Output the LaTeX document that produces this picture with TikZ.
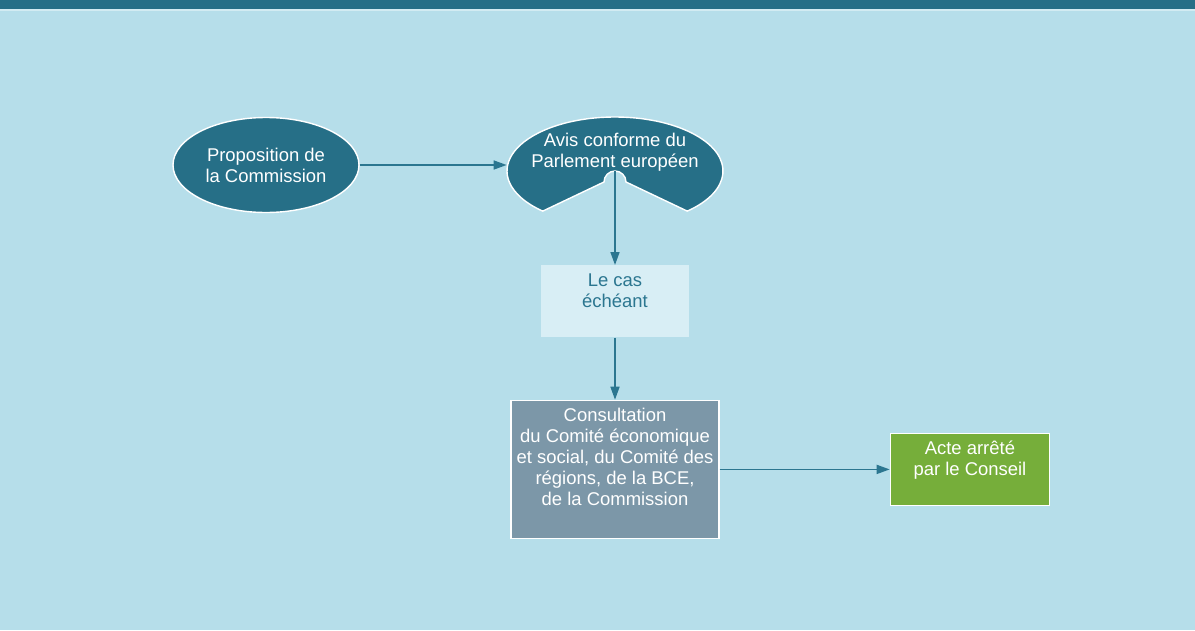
\documentclass[tikz,border=0pt]{standalone}
\usepackage{fontspec}
\setmainfont{Liberation Sans}
\usepackage{xcolor}
\usetikzlibrary{shapes.geometric,positioning,arrows.meta}

\definecolor{pagebg}{HTML}{B6DEEA}
\definecolor{darkteal}{HTML}{266F87}
\definecolor{lineteal}{HTML}{2B7690}
\definecolor{topline}{HTML}{D2EBF2}
\definecolor{palebox}{HTML}{D8EEF5}
\definecolor{greybox}{HTML}{7C97A8}
\definecolor{greenbox}{HTML}{76AE3A}

\begin{document}
\begin{tikzpicture}
        [ every node/.style = {font=\fontsize{10.5}{12}\selectfont, align=center,
                               inner sep=0pt},
          teal node/.style = {ellipse, fill=darkteal, draw=white, line width=0.8pt,
                              text=white, minimum width=3.72cm, minimum height=1.90cm},
          avis node/.style = {ellipse, minimum width=4.32cm, minimum height=2.16cm},
          pale box/.style = {rectangle, fill=palebox, minimum width=2.96cm,
                             minimum height=1.44cm},
          grey box/.style = {rectangle, fill=greybox, draw=white, line width=0.8pt,
                             minimum width=4.16cm, minimum height=2.76cm},
          green box/.style = {rectangle, fill=greenbox, draw=white, line width=0.8pt,
                              minimum width=3.18cm, minimum height=1.44cm},
          box text/.style = {anchor=north, yshift=-0.16cm},
          flow/.style = {draw=lineteal, line width=0.9pt,
                         -{Triangle[length=0.26cm,width=0.18cm]}}]
        % page and top bar
        \fill[pagebg] (0,0) rectangle (23.9,12.6);
        \fill[darkteal] (0,12.42) rectangle (23.9,12.6);
        \fill[topline] (0,12.38) rectangle (23.9,12.42);

        % cut-out ellipse of the Parliament
        \coordinate (notch) at (12.30,9.18);
        \filldraw[fill=darkteal, draw=white, line width=0.8pt]
            (notch) ++(-48:2.16 and 1.08)
            arc[start angle=-48, end angle=228, x radius=2.16, y radius=1.08]
            -- (12.08,8.96) arc[start angle=180, end angle=0, radius=0.22] -- cycle;

        \node[teal node] (prop) at (5.32,9.30) {Proposition de\\la Commission};
        \node[avis node, label={[box text, yshift=-0.16cm, text=white]north:Avis conforme du\\Parlement européen}]
            (avis) at (notch) {};
        \node[pale box, below=1.88cm of notch,
              label={[box text, text=lineteal]north:Le cas\\échéant}] (cas) {};
        \node[grey box, below=1.24cm of cas,
              label={[box text, text=white]north:Consultation\\du Comité économique\\et social, du Comité des\\régions, de la BCE,\\de la Commission}] (cons) {};
        \node[green box, right=3.40cm of cons,
              label={[box text, text=white]north:Acte arrêté\\par le Conseil}] (acte) {};

        \draw[flow] (prop.east) -- (prop.east -| avis.west);
        \draw[flow] (notch) -- (cas);
        \draw[flow] (cas) -- (cons);
        \draw[flow] (cons) -- (acte);
\end{tikzpicture}
\end{document}
